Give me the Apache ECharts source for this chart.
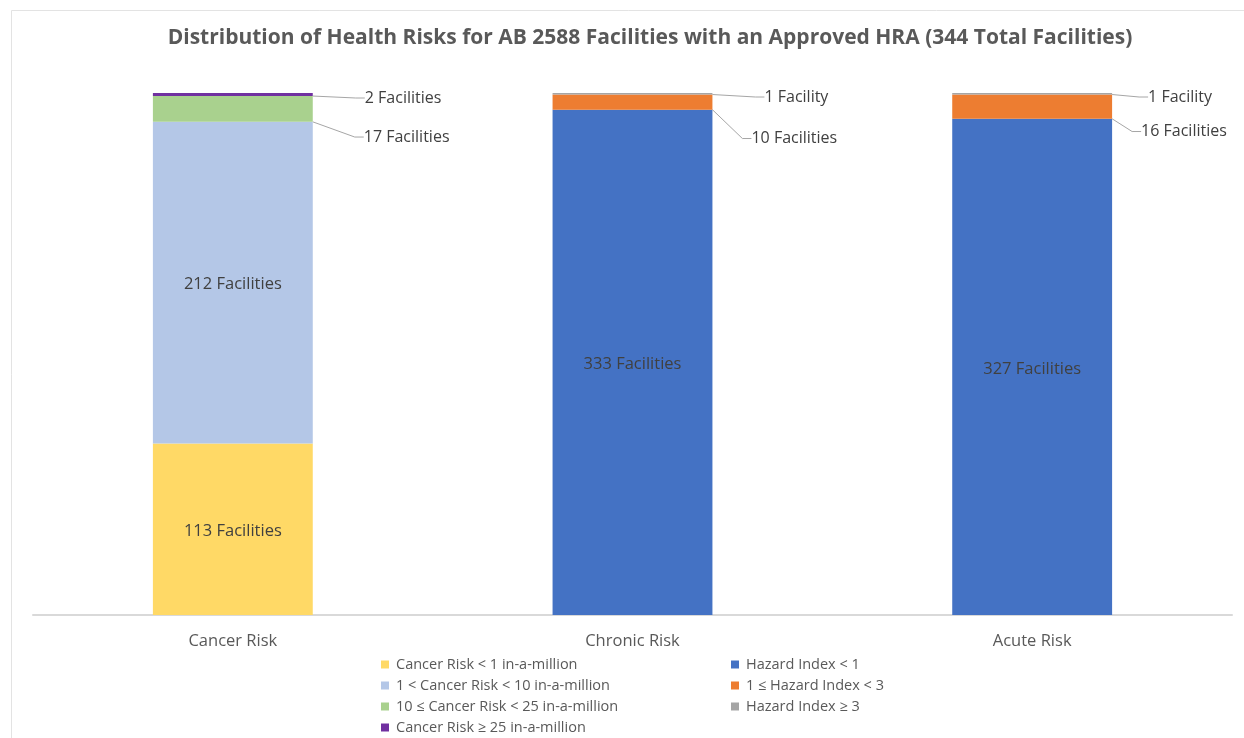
<!DOCTYPE html>
<html>
<head>
<meta charset="utf-8">
<title>AB 2588 Health Risks</title>
<script src="https://cdn.jsdelivr.net/npm/echarts@6/dist/echarts.min.js"></script>
<style>
    html, body { margin: 0; padding: 0; background: #fff; }
    #container { width: 1244px; height: 738px; }
</style>
</head>
<body>
<div id="container"></div>
<script>
// categories + series values (facility counts)
var categories = ['Cancer Risk', 'Chronic Risk', 'Acute Risk'];
var totalFacilities = 344;

var cancerNames = [
    'Cancer Risk < 1 in-a-million',
    '1 < Cancer Risk < 10 in-a-million',
    '10 ≤ Cancer Risk < 25 in-a-million',
    'Cancer Risk ≥ 25 in-a-million'
];
var hazardNames = [
    'Hazard Index < 1',
    '1 ≤ Hazard Index < 3',
    'Hazard Index ≥ 3'
];

var cancerBelow1   = [113, '-', '-'];
var cancer1to10    = [212, '-', '-'];
var cancer10to25   = [17, '-', '-'];
var cancerAbove25  = [2, '-', '-'];
var hazardBelow1   = ['-', 333, 327];
var hazard1to3     = ['-', 10, 16];
var hazardAbove3   = ['-', 1, 1];

var font = '"Open Sans", Lato, sans-serif';

function facilityText(p) {
    return p.value == 1 ? '1 Facility' : p.value + ' Facilities';
}

// label inside the segment
function insideLabel() {
    return {
        show: true,
        position: 'inside',
        offset: [0, 2],
        formatter: facilityText,
        fontFamily: font,
        fontSize: 16.5,
        color: '#404040'
    };
}

// label moved to the right of the bar with a guide line
// dx / dy are per category offsets from the segment's right-top corner
function outsideSeries(dx, dy) {
    return {
        label: {
            show: true,
            position: 'right',
            formatter: facilityText,
            fontFamily: font,
            fontSize: 16,
            color: '#404040',
            padding: [0, 0, 0, 6]
        },
        labelLine: {
            show: true,
            length2: 9,
            lineStyle: { color: '#a6a6a6', width: 1 }
        },
        labelLayout: function (params) {
            var i = params.dataIndex;
            return {
                x: params.rect.x + params.rect.width + dx[i],
                y: params.rect.y + dy[i],
                align: 'left',
                verticalAlign: 'middle'
            };
        }
    };
}

function bar(name, data, color, extra) {
    var s = {
        name: name,
        type: 'bar',
        stack: 'risk',
        barWidth: '40%',
        data: data,
        itemStyle: { color: color }
    };
    for (var k in extra) s[k] = extra[k];
    return s;
}

var series = [
    bar(cancerNames[0], cancerBelow1, '#FFD966', { label: insideLabel() }),
    bar(cancerNames[1], cancer1to10, '#B4C7E7', { label: insideLabel() }),
    bar(cancerNames[2], cancer10to25, '#A9D18E', outsideSeries([45, 0, 0], [41, 0, 0])),
    bar(cancerNames[3], cancerAbove25, '#7030A0', outsideSeries([46, 0, 0], [5, 0, 0])),
    bar(hazardNames[0], hazardBelow1, '#4472C4', { label: insideLabel() }),
    bar(hazardNames[1], hazard1to3, '#ED7D31', outsideSeries([0, 33, 23], [0, 44, 37])),
    bar(hazardNames[2], hazardAbove3, '#A5A5A5', outsideSeries([0, 46, 30], [0, 4, 4]))
];

var legendBase = {
    orient: 'vertical',
    top: 657,
    padding: 0,
    itemWidth: 8,
    itemHeight: 8,
    itemGap: 6,
    icon: 'rect',
    textStyle: { fontFamily: font, fontSize: 14.5, color: '#595959', padding: [0, 0, 0, 2] }
};

var option = {
    animation: false,
    backgroundColor: '#fff',
    title: {
        text: 'Distribution of Health Risks for AB 2588 Facilities with an Approved HRA (344 Total Facilities)',
        left: 650,
        textAlign: 'center',
        top: 28,
        padding: 0,
        textStyle: { fontFamily: font, fontSize: 21, fontWeight: 'bold', color: '#595959' }
    },
    graphic: [{
        type: 'rect',
        shape: { x: 11.5, y: 10.5, width: 1300, height: 800 },
        style: { fill: 'none', stroke: '#e3e3e3', lineWidth: 1 },
        silent: true
    }],
    legend: [
        Object.assign({}, legendBase, { left: 381, data: cancerNames }),
        Object.assign({}, legendBase, { left: 731, data: hazardNames })
    ],
    grid: { left: 33, right: 12, top: 93, bottom: 123 },
    xAxis: {
        type: 'category',
        data: categories,
        axisTick: { show: false },
        axisLine: { lineStyle: { color: '#d9d9d9', width: 2 } },
        axisLabel: { margin: 18, fontFamily: font, fontSize: 16.5, color: '#595959' }
    },
    yAxis: {
        type: 'value',
        min: 0,
        max: totalFacilities,
        show: false
    },
    series: series
};

var myChart = echarts.init(document.getElementById('container'));
myChart.setOption(option);
</script>
</body>
</html>
